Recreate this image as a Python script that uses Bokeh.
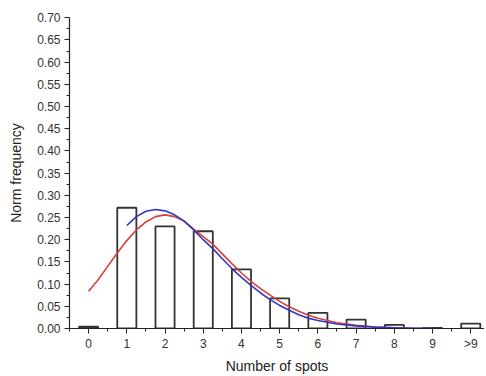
from bokeh.plotting import figure
from bokeh.models import Range1d, FixedTicker, NumeralTickFormatter
from bokeh.embed import file_html
from bokeh.resources import INLINE

# Histogram data
categories = ["0", "1", "2", "3", "4", "5", "6", "7", "8", "9", ">9"]
bar_x = [0, 1, 2, 3, 4, 5, 6, 7, 8, 9, 10]
bar_freq = [0.004, 0.272, 0.230, 0.219, 0.133, 0.068, 0.035, 0.020, 0.008, 0.0015, 0.011]

# Red fitted curve
red_x = [0, 0.25, 0.5, 0.75, 1, 1.25, 1.5, 1.75, 2, 2.25, 2.5, 2.75, 3, 3.25, 3.5,
         3.75, 4, 4.25, 4.5, 4.75, 5, 5.25, 5.5, 5.75, 6, 6.5, 7, 7.5, 8, 8.5, 9]
red_y = [0.084, 0.110, 0.140, 0.170, 0.198, 0.222, 0.240, 0.252, 0.256, 0.252, 0.242,
         0.224, 0.207, 0.190, 0.168, 0.146, 0.125, 0.106, 0.090, 0.075, 0.061, 0.049,
         0.039, 0.030, 0.023, 0.013, 0.007, 0.0035, 0.0015, 0.0006, 0.0002]

# Blue fitted curve
blue_x = [1, 1.25, 1.5, 1.75, 2, 2.25, 2.5, 2.75, 3, 3.25, 3.5, 3.75, 4, 4.25, 4.5,
          4.75, 5, 5.25, 5.5, 5.75, 6, 6.5, 7, 7.5, 8, 8.5, 9]
blue_y = [0.232, 0.252, 0.264, 0.268, 0.265, 0.256, 0.242, 0.222, 0.200, 0.180, 0.157,
          0.135, 0.115, 0.097, 0.080, 0.065, 0.052, 0.041, 0.031, 0.023, 0.018, 0.010,
          0.006, 0.003, 0.0015, 0.0006, 0.0002]

y_ticks = [0.0, 0.05, 0.10, 0.15, 0.20, 0.25, 0.30, 0.35, 0.40, 0.45, 0.50, 0.55, 0.60, 0.65, 0.70]
y_minor = [0.025, 0.075, 0.125, 0.175, 0.225, 0.275, 0.325, 0.375, 0.425, 0.475,
           0.525, 0.575, 0.625, 0.675]
x_minor = [-0.5, 0.5, 1.5, 2.5, 3.5, 4.5, 5.5, 6.5, 7.5, 8.5, 9.5]

FONT = "Liberation Sans"

p = figure(width=484, height=376, output_backend="svg", toolbar_location=None,
           x_range=Range1d(-0.5, 10.36), y_range=Range1d(0, 0.7005),
           min_border_left=69, min_border_top=17, min_border_right=0, min_border_bottom=48)
p.outline_line_color = None
p.xgrid.visible = False
p.ygrid.visible = False
p.background_fill_color = "white"
p.border_fill_color = "white"

p.vbar(x=bar_x, top=bar_freq, width=0.5, bottom=0, fill_color="white",
       line_color="#333333", line_width=1.8)
p.line(red_x, red_y, line_color="#d6403a", line_width=1.6)
p.line(blue_x, blue_y, line_color="#3535c0", line_width=1.6)

# X axis
p.xaxis.ticker = FixedTicker(ticks=bar_x, minor_ticks=x_minor)
p.xaxis.major_label_overrides = {i: c for i, c in zip(bar_x, categories)}
p.xaxis.axis_label = "Number of spots"

# Y axis
p.yaxis.ticker = FixedTicker(ticks=y_ticks, minor_ticks=y_minor)
p.yaxis.formatter = NumeralTickFormatter(format="0.00")
p.yaxis.axis_label = "Norm frequency"

for ax in (p.xaxis[0], p.yaxis[0]):
    ax.axis_line_color = "#222222"
    ax.axis_line_width = 1.2
    ax.major_tick_line_color = "#222222"
    ax.minor_tick_line_color = "#222222"
    ax.major_tick_in = 0
    ax.major_tick_out = 5
    ax.minor_tick_in = 0
    ax.minor_tick_out = 3
    ax.major_label_text_font = FONT
    ax.major_label_text_font_size = "12px"
    ax.major_label_text_color = "#333333"
    ax.axis_label_text_font = FONT
    ax.axis_label_text_font_size = "14px"
    ax.axis_label_text_font_style = "normal"
    ax.axis_label_text_color = "#222222"

p.xaxis.major_label_standoff = 3
p.xaxis.axis_label_standoff = 4
p.yaxis.major_label_standoff = 4
p.yaxis.axis_label_standoff = 10

open("out.html", "w").write(file_html(p, INLINE))
